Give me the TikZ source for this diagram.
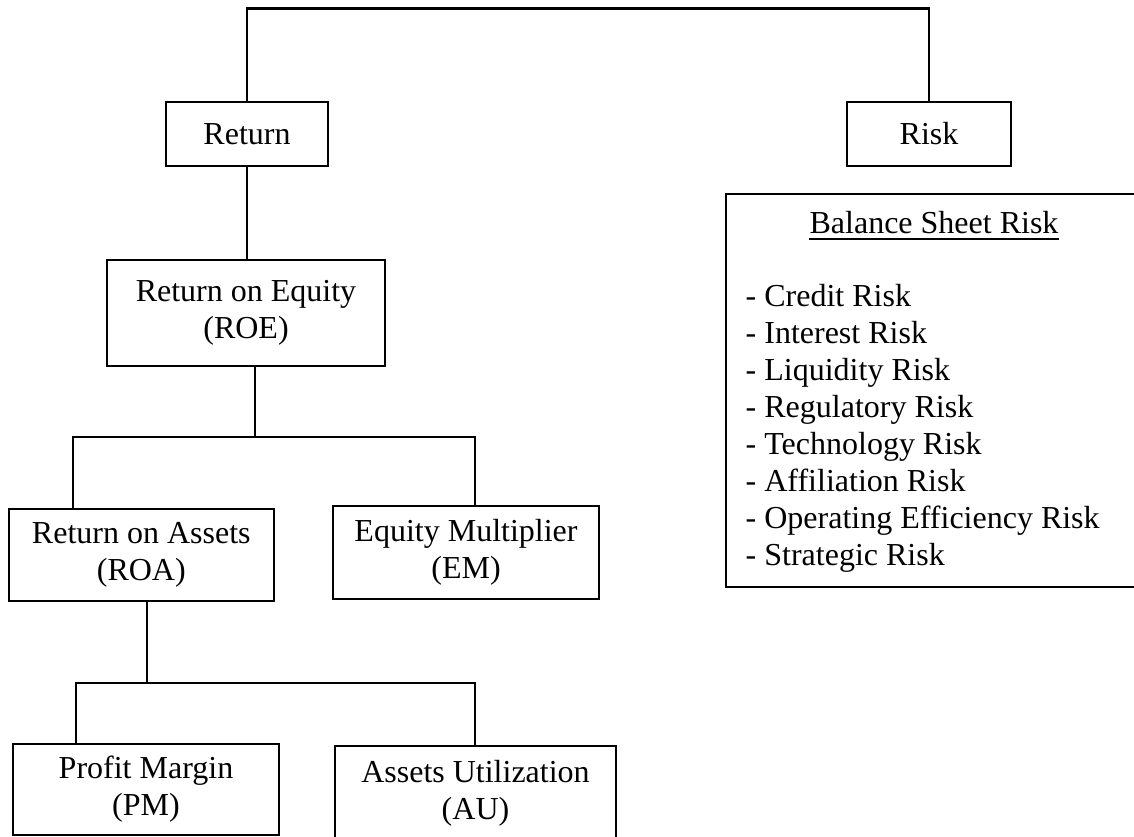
\documentclass[tikz,border=0pt]{standalone}
\usepackage{fontspec}
\setmainfont{Liberation Serif}
\begin{document}
\begin{tikzpicture}[x=1pt, y=-1pt,
  txt/.style={font=\fontsize{32}{37}\selectfont},
  box/.style={draw, rectangle, line width=2.2pt, inner sep=0pt, align=center, txt},
  conn/.style={line width=2.2pt}]
\useasboundingbox (0,0) rectangle (1134,837);
\fill[white] (0,0) rectangle (1134,837);
\clip (0,0) rectangle (1134,837);

% return side
\node[box, minimum width=162, minimum height=64] (ret) at (247,134) {Return};
\node[box, minimum width=278, minimum height=106] (roe) at (246,313) {Return on Equity\\(ROE)};
\node[box, minimum width=265, minimum height=92] (roa) at (141.3,555) {Return on Assets\\(ROA)};
\node[box, minimum width=266, minimum height=93] (em) at (466,552.5) {Equity Multiplier\\(EM)};
\node[box, minimum width=266, minimum height=91] (pm) at (146,789.5) {Profit Margin\\(PM)};
\node[box, minimum width=281, minimum height=94] (au) at (475.5,793) {Assets Utilization\\(AU)};

% risk side
\node[box, minimum width=164, minimum height=64] (risk) at (929,134) {Risk};
\node[draw, line width=2.2pt, minimum width=415, minimum height=393, inner sep=0pt,
      anchor=north west] (bsr) at (725,193) {};
\node[txt, anchor=base, inner sep=0pt] (bsrt) at (934,233) {Balance Sheet Risk};
\draw[line width=2pt] ([yshift=-5.5pt]bsrt.base west) -- ([yshift=-5.5pt]bsrt.base east);
\foreach \t [count=\i from 0] in {Credit Risk, Interest Risk, Liquidity Risk,
    Regulatory Risk, Technology Risk, Affiliation Risk,
    Operating Efficiency Risk, Strategic Risk}
  \node[txt, anchor=base west, inner sep=0pt] (bsr\i) at (745.5,306.7+36.9*\i) {- \t};

% connectors
\coordinate (top) at (0,8.5);
\draw[conn] (ret.north) -- (ret.north |- top) -| (risk.north);
\draw[conn] (ret.south) -- (ret.south |- roe.north);

\coordinate (j1) at (255,437);
\coordinate (j1l) at (73,437);
\coordinate (j1r) at (475,437);
\draw[conn] (roe.south -| j1) -- (j1);
\draw[conn] (roa.north -| j1l) -- (j1l) -- (j1r) -- (em.north -| j1r);

\coordinate (j2) at (147,683);
\coordinate (j2l) at (76,683);
\coordinate (j2r) at (475,683);
\draw[conn] (roa.south -| j2) -- (j2);
\draw[conn] (pm.north -| j2l) -- (j2l) -- (j2r) -- (au.north -| j2r);
\end{tikzpicture}
\end{document}
